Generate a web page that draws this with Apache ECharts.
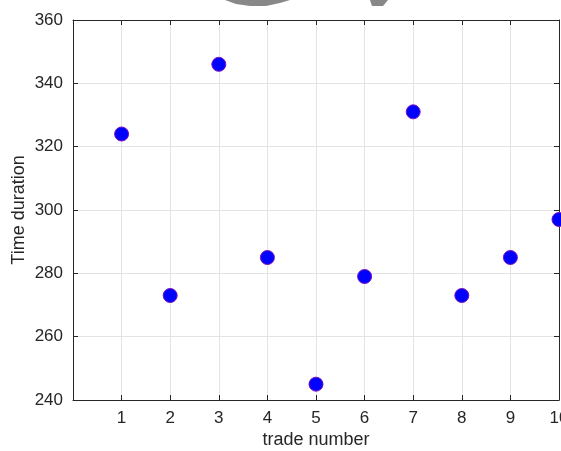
<!DOCTYPE html>
<html>
<head>
<meta charset="utf-8">
<script src="https://cdn.jsdelivr.net/npm/echarts@6/dist/echarts.min.js"></script>
<style>html,body{margin:0;padding:0;background:#fff;}#c{width:561px;height:451px;}</style>
</head>
<body>
<div id="c"></div>
<script>
const tradeNumbers = [1, 2, 3, 4, 5, 6, 7, 8, 9, 10];
const timeDurations = [324, 273, 346, 285, 245, 279, 331, 273, 285, 297];
const xTicks = [0, 10, 1];   // min, max, interval
const yTicks = [240, 360, 20];

const chart = echarts.init(document.getElementById('c'));
const axisColor = '#262626';
const font = 'Liberation Sans, Helvetica, Arial, sans-serif';
const gridLine = { show: true, lineStyle: { color: '#e3e3e3', width: 1 } };
const pts = tradeNumbers.map((x, i) => [x, timeDurations[i]]);

chart.setOption({
  animation: false,
  backgroundColor: '#ffffff',
  grid: { left: 73, top: 20, width: 486, height: 380, containLabel: false, outerBoundsMode: 'none' },
  graphic: [
    { type: 'polygon', shape: { points: [[225,0],[236,4],[250,6],[266,6],[280,3],[290,0]] }, style: { fill: '#888888' } },
    { type: 'polygon', shape: { points: [[370,0],[388,0],[383,6],[372,6]] }, style: { fill: '#888888' } }
  ],
  xAxis: [{
    type: 'value', min: xTicks[0], max: xTicks[1], interval: xTicks[2],
    position: 'bottom',
    name: 'trade number', nameLocation: 'middle', nameGap: 31, nameMoveOverlap: false,
    nameTextStyle: { fontFamily: font, fontSize: 18, color: axisColor },
    axisLine: { show: true, onZero: false, lineStyle: { color: axisColor, width: 1 } },
    axisTick: { show: true, inside: true, length: 5, lineStyle: { color: axisColor } },
    axisLabel: { fontFamily: font, fontSize: 17, color: axisColor, margin: 10,
      formatter: v => v === 0 ? '' : String(v) },
    splitLine: gridLine
  }, {
    type: 'value', min: xTicks[0], max: xTicks[1], interval: xTicks[2],
    position: 'top',
    axisLine: { show: true, onZero: false, lineStyle: { color: axisColor, width: 1 } },
    axisTick: { show: true, inside: true, length: 5, lineStyle: { color: axisColor } },
    axisLabel: { show: false },
    splitLine: { show: false }
  }],
  yAxis: [{
    type: 'value', min: yTicks[0], max: yTicks[1], interval: yTicks[2],
    position: 'left',
    name: 'Time duration', nameLocation: 'middle', nameGap: 45, nameMoveOverlap: false,
    nameTextStyle: { fontFamily: font, fontSize: 18, color: axisColor },
    axisLine: { show: true, onZero: false, lineStyle: { color: axisColor, width: 1 } },
    axisTick: { show: true, inside: true, length: 5, lineStyle: { color: axisColor } },
    axisLabel: { fontFamily: font, fontSize: 17, color: axisColor, margin: 10 },
    splitLine: gridLine
  }, {
    type: 'value', min: yTicks[0], max: yTicks[1], interval: yTicks[2],
    position: 'right',
    axisLine: { show: true, onZero: false, lineStyle: { color: axisColor, width: 1 } },
    axisTick: { show: true, inside: true, length: 5, lineStyle: { color: axisColor } },
    axisLabel: { show: false },
    splitLine: { show: false }
  }],
  series: [{
    type: 'scatter',
    xAxisIndex: 0, yAxisIndex: 0,
    data: pts,
    clip: false,
    symbol: 'circle',
    symbolSize: 14,
    itemStyle: { color: '#0000ff', borderColor: '#7a10c0', borderWidth: 1, opacity: 1 }
  }]
});
</script>
</body>
</html>
